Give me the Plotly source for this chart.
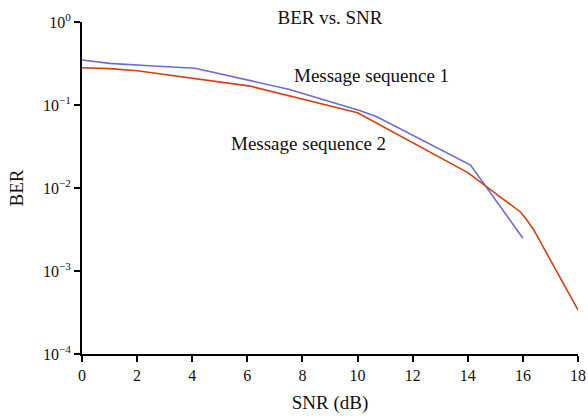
import plotly.graph_objects as go

# Message sequence 1 (blue)
snr1 = [0, 1, 2.6, 4.1, 7.5, 10.1, 10.7, 14.1, 16.0]
ber1 = [0.348, 0.317, 0.295, 0.277, 0.155, 0.0854, 0.0723, 0.0189, 0.00248]

# Message sequence 2 (red)
snr2 = [0, 1, 2.0, 6.1, 10.0, 14.0, 15.9, 16.1, 16.4, 18.0]
ber2 = [0.281, 0.274, 0.259, 0.169, 0.0807, 0.0153, 0.00518, 0.00431, 0.0031, 0.00034]

x_ticks = [0, 2, 4, 6, 8, 10, 12, 14, 16, 18]
y_tickvals = [1, 0.1, 0.01, 0.001, 0.0001]
y_ticktext = ["10<sup>0</sup>", "10<sup>\u22121</sup>", "10<sup>\u22122</sup>",
              "10<sup>\u22123</sup>", "10<sup>\u22124</sup>"]

FONT = "Liberation Serif"

fig = go.Figure()
fig.add_trace(go.Scatter(x=snr1, y=ber1, mode="lines",
                         line=dict(color="#6b6bd8", width=1.6),
                         name="Message sequence 1", showlegend=False))
fig.add_trace(go.Scatter(x=snr2, y=ber2, mode="lines",
                         line=dict(color="#d4400e", width=1.6),
                         name="Message sequence 2", showlegend=False))

fig.add_annotation(x=10.51, y=-0.639, text="Message sequence 1", showarrow=False,
                   font=dict(family=FONT, size=19, color="#111"))
fig.add_annotation(x=8.23, y=-1.458, text="Message sequence 2", showarrow=False,
                   font=dict(family=FONT, size=19, color="#111"))

fig.update_layout(
    width=588, height=419,
    margin=dict(l=82, r=10, t=22, b=65),
    paper_bgcolor="white", plot_bgcolor="white",
    font=dict(family=FONT, size=15, color="#111"),
    title=dict(text="BER vs. SNR", x=0.5612, xanchor="center",
               y=1 - 17 / 419, yanchor="middle", yref="container",
               font=dict(family=FONT, size=19, color="#111")),
)
fig.update_xaxes(range=[0, 18], tickvals=x_ticks, showgrid=False, zeroline=False,
                 automargin=False,
                 showline=True, linecolor="black", linewidth=2,
                 ticks="outside", ticklen=6, tickwidth=2, tickcolor="black",
                 tickfont=dict(family=FONT, size=16),
                 title=dict(text="SNR (dB)", font=dict(family=FONT, size=19), standoff=12))
fig.update_yaxes(type="log", range=[-4, 0], tickvals=y_tickvals, ticktext=y_ticktext,
                 showgrid=False, zeroline=False, automargin=False,
                 showline=True, linecolor="black", linewidth=2,
                 ticks="outside", ticklen=6, tickwidth=2, tickcolor="black",
                 tickfont=dict(family=FONT, size=16),
                 title=dict(text="BER", font=dict(family=FONT, size=19), standoff=14))

fig.write_html("out.html", config={"displayModeBar": False},
               post_script="document.body.style.margin='0';document.body.style.overflow='hidden';")
